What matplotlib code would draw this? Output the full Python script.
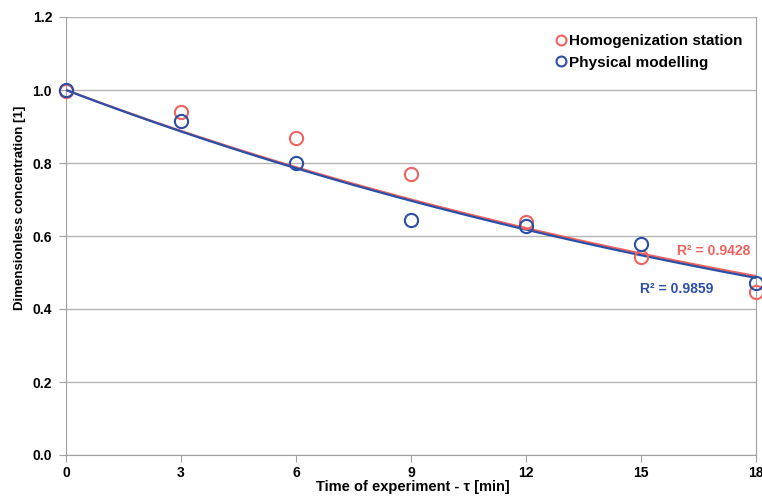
import matplotlib
matplotlib.use("Agg")
import matplotlib.pyplot as plt
import numpy as np

plt.rcParams["font.family"] = ["Liberation Sans", "DejaVu Sans"]
plt.rcParams["font.weight"] = "bold"

time_min = [0, 3, 6, 9, 12, 15, 18]
homog = [0.997, 0.940, 0.868, 0.770, 0.639, 0.542, 0.447]
physical = [1.0, 0.915, 0.800, 0.644, 0.627, 0.578, 0.472]
r2_homog = "R² = 0.9428"
r2_phys = "R² = 0.9859"

RED = "#f0625f"
BLUE = "#2b4fa6"


def exp_fit(x, y):
    # exponential trend through (0, 1): y = exp(-k x)
    x = np.asarray(x, float)
    ly = np.log(np.asarray(y, float))
    k = np.sum(x * ly) / np.sum(x * x)
    return lambda t: np.exp(k * t)


W, H = 762, 497
fig = plt.figure(figsize=(W / 100, H / 100), dpi=100)
ax = fig.add_axes([66 / W, 42 / H, 690 / W, 438 / H])

xs = np.linspace(0, 18, 100)
ax.plot(xs, exp_fit(time_min, homog)(xs), color=RED, lw=1.6, zorder=3)
ax.plot(xs, exp_fit(time_min, physical)(xs), color=BLUE, lw=1.6, zorder=3)

ax.plot(time_min, homog, "o", mfc="none", mec=RED, mew=1.5, ms=9.5,
        label="Homogenization station", clip_on=False, zorder=4)
ax.plot(time_min, physical, "o", mfc="none", mec=BLUE, mew=1.5, ms=9.5,
        label="Physical modelling", clip_on=False, zorder=4)

ax.set_xlim(0, 18)
ax.set_ylim(0, 1.2)
ax.set_xticks([0, 3, 6, 9, 12, 15, 18])
ax.set_yticks(np.arange(0, 1.21, 0.2))
ax.set_yticklabels([f"{v:.1f}" for v in np.arange(0, 1.21, 0.2)])
ax.grid(True, axis="y", color="#b4b4b4", lw=1.0)
ax.set_axisbelow(True)

for side in ["left", "bottom", "right"]:
    ax.spines[side].set_color("#a0a0a0")
ax.spines["top"].set_visible(False)
ax.tick_params(axis="both", direction="out", length=5, color="#a0a0a0",
               labelsize=10)
ax.tick_params(axis="x", pad=3)
ax.tick_params(axis="y", pad=5)

ax.set_xlabel("Time of experiment - τ [min]", fontsize=10.5, fontweight="bold")
ax.xaxis.set_label_coords(0.502, -0.056)
ax.set_ylabel("Dimensionless concentration [1]", fontsize=9.5,
              fontweight="bold")
ax.yaxis.set_label_coords(-0.058, 0.564)

ax.text(15.94, 0.559, r2_homog, color=RED, fontsize=10, fontweight="bold",
        va="center")
ax.text(14.98, 0.455, r2_phys, color=BLUE, fontsize=10, fontweight="bold",
        va="center")

leg = ax.legend(loc="upper left", bbox_to_anchor=((555 - 66) / 690, (455 - 34) / 438),
                frameon=False, fontsize=11, handletextpad=0.1, handlelength=0.8,
                labelspacing=0.5, markerscale=0.75, borderpad=0,
                borderaxespad=0)

fig.savefig("out.png", dpi=100)
